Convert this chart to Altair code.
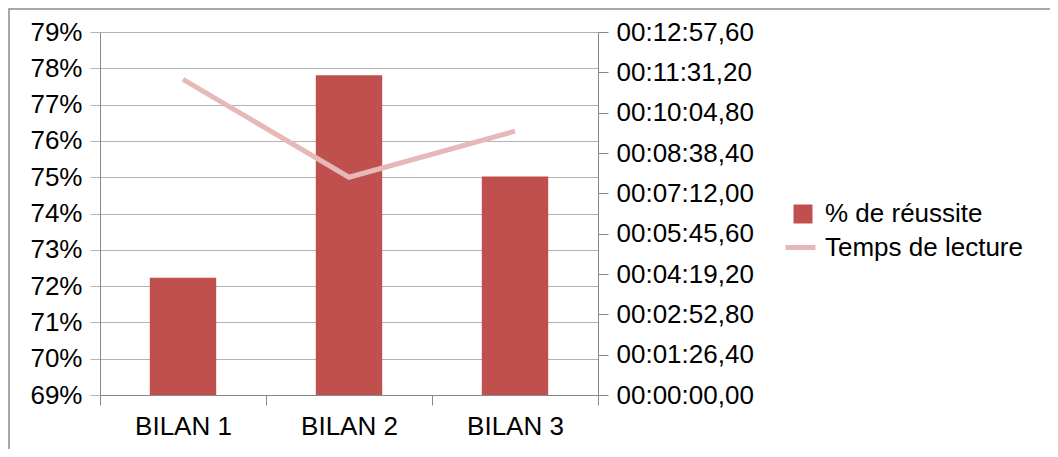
import altair as alt
import pandas as pd

categories = ["BILAN 1", "BILAN 2", "BILAN 3"]
reussite = [0.7223, 0.7781, 0.7502]
temps_sec = [676.1, 466.5, 565.2]
pct_ticks = [0.69, 0.70, 0.71, 0.72, 0.73, 0.74, 0.75, 0.76, 0.77, 0.78, 0.79]
time_ticks = [0, 86.4, 172.8, 259.2, 345.6, 432.0, 518.4, 604.8, 691.2, 777.6]

df = pd.DataFrame({
    "cat": categories,
    "reussite": reussite,
    "temps": temps_sec,
    "s1": ["% de réussite"] * 3,
    "s2": ["Temps de lecture"] * 3,
})

FONT = "Liberation Sans"
FS = 26
GRID = "#b3b3b3"
AXIS = "#888888"

xenc = alt.X("cat:N", sort=categories, title=None,
             scale=alt.Scale(paddingInner=0, paddingOuter=0),
             axis=alt.Axis(tickBand="extent", labelAngle=0, labelFontSize=FS,
                           labelFont=FONT, labelColor="#000000", labelPadding=8,
                           tickSize=10, tickColor=AXIS, domainColor=AXIS,
                           grid=False))

bars = alt.Chart(df).mark_bar(width=alt.RelativeBandSize(0.4)).encode(
    x=xenc,
    y=alt.Y("reussite:Q", title=None,
            scale=alt.Scale(domain=[0.69, 0.79], zero=False, nice=False),
            axis=alt.Axis(orient="left", values=pct_ticks, format=".0%",
                          labelFontSize=FS, labelFont=FONT, labelColor="#000000",
                          tickSize=10, tickColor=GRID, domainColor=AXIS,
                          gridColor=GRID, grid=True, labelPadding=8)),
    y2=alt.datum(0.69),
    color=alt.Color("s1:N", scale=alt.Scale(range=["#C0504D"]),
                    legend=alt.Legend(title=None, orient="none", legendX=690, legendY=169,
                                      symbolType="square", symbolSize=361,
                                      labelFontSize=FS, labelFont=FONT, labelLimit=400,
                                      labelColor="#000000", labelOffset=9,
                                      padding=0, symbolStrokeWidth=0)),
)

line = alt.Chart(df).mark_line(strokeWidth=5).encode(
    x=alt.X("cat:N", sort=categories),
    y=alt.Y("temps:Q", title=None,
            scale=alt.Scale(domain=[0, 777.6], nice=False),
            axis=alt.Axis(orient="right", values=time_ticks, grid=False,
                          labelExpr="utcFormat(datum.value*1000, '%H:%M:%S') + ',' + format(round(datum.value*100) % 100, '02d')",
                          labelFontSize=FS, labelFont=FONT, labelColor="#000000",
                          tickSize=10, tickColor=AXIS, domainColor=AXIS,
                          labelPadding=8)),
    color=alt.Color("s2:N", scale=alt.Scale(range=["#E6B9B8"]),
                    legend=alt.Legend(title=None, orient="none", legendX=683, legendY=198,
                                      symbolType="stroke", symbolSize=900,
                                      symbolStrokeWidth=5,
                                      labelFontSize=FS, labelFont=FONT, labelLimit=400,
                                      labelColor="#000000", labelOffset=7,
                                      padding=0)),
)

frame = alt.Chart(pd.DataFrame({"a": [0]})).mark_rect(
    fill="transparent", stroke="#8c8c8c", strokeWidth=1.5
).encode(
    x=alt.value(-91), x2=alt.value(1200), y=alt.value(-23), y2=alt.value(900)
)

chart = alt.layer(frame, bars, line).resolve_scale(
    y="independent", color="independent"
).properties(
    width=498, height=363,
    padding={"left": 92, "top": 24, "right": 452, "bottom": 54},
    autosize=alt.AutoSizeParams(type="none"),
).configure_view(strokeWidth=0)

chart.save("out.html", embed_options={"renderer": "svg", "actions": False})
